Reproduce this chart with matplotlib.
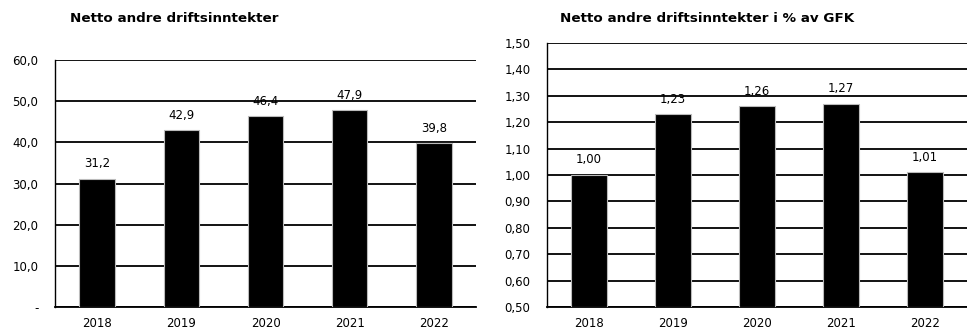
from matplotlib import pyplot as plt
import numpy as np

years = ["2018", "2019", "2020", "2021", "2022"]
netto = [31.2, 42.9, 46.4, 47.9, 39.8]
pct_gfk = [1.00, 1.23, 1.26, 1.27, 1.01]

W, H = 967, 331
fig = plt.figure(figsize=(W / 100, H / 100), dpi=100)
plt.rcParams['font.family'] = ['DejaVu Sans']

def ax_rect(x0, y0, x1, y1):
    return [x0 / W, 1 - y1 / H, (x1 - x0) / W, (y1 - y0) / H]

def fmt(v, d):
    return f"{v:.{d}f}".replace(".", ",")

def draw(ax, values, ymin, ymax, step, d, zero_dash):
    x = np.arange(len(values))
    ax.set_xlim(-0.5, len(values) - 0.5)
    ax.set_ylim(ymin, ymax)
    ticks = np.arange(ymin, ymax + step / 2, step)
    ax.set_yticks(ticks)
    ax.yaxis.grid(True, color="black", linewidth=1.3)
    ax.set_axisbelow(True)
    ax.bar(x, np.array(values) - ymin, bottom=ymin, width=0.42,
           color="black", edgecolor="#bbbbbb", linewidth=0.8, zorder=3)
    labels = []
    for t in ticks:
        if zero_dash and abs(t) < 1e-9:
            labels.append("-")
        else:
            labels.append(fmt(t, d))
    ax.set_yticklabels(labels, fontsize=8.5)
    ax.set_xticks(x)
    ax.set_xticklabels(years, fontsize=8.5)
    ax.tick_params(length=0, pad=7)
    ax.tick_params(axis="y", pad=12)
    for s in ["top", "right"]:
        ax.spines[s].set_visible(False)
    ax.spines["left"].set_linewidth(1.0)
    ax.spines["bottom"].set_linewidth(1.3)
    for xi, v in zip(x, values):
        ax.text(xi, v + (ymax - ymin) * 0.033, fmt(v, d), ha="center",
                va="bottom", fontsize=8.5)

ax1 = fig.add_axes(ax_rect(55, 60, 476, 307))
draw(ax1, netto, 0, 60, 10, 1, True)

ax2 = fig.add_axes(ax_rect(547, 43, 967, 307))
draw(ax2, pct_gfk, 0.5, 1.5, 0.1, 2, False)

fig.text(70 / W, 1 - 18 / H, "Netto andre driftsinntekter", fontsize=9.7,
         fontweight="bold", va="center", ha="left")
fig.text(560 / W, 1 - 18 / H, "Netto andre driftsinntekter i % av GFK",
         fontsize=9.7, fontweight="bold", va="center", ha="left")

fig.savefig("out.png", dpi=100)
